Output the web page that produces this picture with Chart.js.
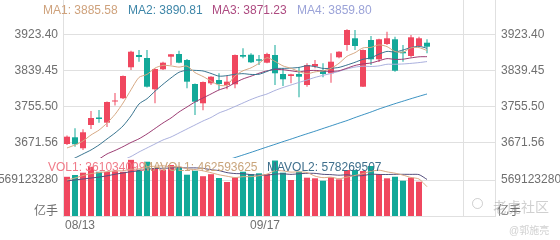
<!DOCTYPE html>
<html>
<head>
<meta charset="utf-8">
<script src="https://cdn.jsdelivr.net/npm/chart.js@4.4.1/dist/chart.umd.min.js"></script>
<style>
  body { margin: 0; background: #fff; }
  #wrap { position: relative; width: 560px; height: 240px; overflow: hidden;
          font-family: "Liberation Sans", Arial, "Noto Sans CJK SC", sans-serif; font-size: 12px; }
  #wrap canvas { position: absolute; left: 0; }
  #kline { top: 0; }
  #vol { top: 158px; }
  .lg { position: absolute; white-space: nowrap; line-height: 14px; }
  .wm { position: absolute; white-space: nowrap; color: rgba(170,170,170,0.55); }
</style>
</head>
<body>
<div id="wrap">
  <canvas id="kline" width="560" height="158"></canvas>
  <canvas id="vol" width="560" height="82"></canvas>

  <span class="lg" style="left:43px;top:3px;color:#cfa27c">MA1: 3885.58</span>
  <span class="lg" style="left:128px;top:3px;color:#3e86a8">MA2: 3890.81</span>
  <span class="lg" style="left:212px;top:3px;color:#ad4a80">MA3: 3871.23</span>
  <span class="lg" style="left:297px;top:3px;color:#9ba3d8">MA4: 3859.80</span>

  <span class="lg" style="left:48px;top:160px;color:#f07a88">VOL1: 361034099</span>
  <span class="lg" style="left:143px;top:160px;color:#c9a57c">MAVOL1: 462593625</span>
  <span class="lg" style="left:267px;top:160px;color:#3f6f8c">MAVOL2: 578269507</span>

  <span class="lg" style="left:34px;top:204px;color:#6f6f6f">亿手</span>
  <span class="lg" style="left:497px;top:204px;color:#6f6f6f">亿手</span>

  <span class="wm" style="left:472px;top:198px;width:9px;height:9px;border:1px solid rgba(170,170,170,0.55);border-radius:50%"></span>
  <span class="wm" style="left:493px;top:196px;font-size:14px">老虎社区</span>
  <span class="wm" style="left:509px;top:222px;font-size:10px">@郭施亮</span>
</div>

<script>
// x slots: 46 trading days drawn, 8 empty slots on the right
const SLOTS = 54;
const xTickLabels = ['08/13', '09/17'];
const xTickSlots = [0, 25];
const xGridSlots = [0, 25, 50];

const priceTicks = [3923.40, 3839.45, 3755.50, 3671.56];
const volTicks = [569123280];

const opens = [3667.6, 3683.2, 3657.6, 3711.9, 3729.4, 3717.3, 3766.7, 3774.2, 3846.5, 3875.1,
  3868.1, 3795.2, 3841.8, 3871.2, 3877.5, 3863.5, 3807.5, 3762.5, 3809.1, 3816.8,
  3805.2, 3806.8, 3875.1, 3875.8, 3865.1, 3857.2, 3875.1, 3830.8, 3826.2, 3830.8,
  3805.2, 3848.3, 3840.2, 3832.5, 3869.8, 3898.5, 3914.1, 3801.2, 3910.1, 3865.1,
  3900.8, 3911.8, 3882.8, 3872.8, 3896.1, 3903.8];
const highs = [3687.4, 3704.2, 3701.9, 3744.5, 3746.9, 3766.7, 3786.5, 3827.3, 3885.2, 3886.8,
  3886.8, 3843.7, 3859.5, 3877.5, 3885.2, 3865.8, 3808.7, 3813.3, 3825.7, 3832.5,
  3826.2, 3876.3, 3890.8, 3879.1, 3875.1, 3880.5, 3898.5, 3844.1, 3831.3, 3846.5,
  3855.8, 3863.5, 3855.8, 3879.1, 3884.0, 3935.1, 3933.4, 3888.0, 3919.4, 3912.9,
  3929.5, 3917.8, 3898.5, 3921.8, 3917.8, 3911.8];
const lows = [3665.3, 3661.3, 3653.6, 3702.6, 3717.3, 3707.2, 3757.4, 3772.5, 3840.2, 3859.5,
  3799.3, 3762.5, 3840.2, 3851.8, 3855.8, 3797.5, 3735.2, 3746.2, 3805.2, 3793.5,
  3795.2, 3797.5, 3867.4, 3856.5, 3851.8, 3855.8, 3805.2, 3802.8, 3809.1, 3776.5,
  3801.2, 3844.1, 3823.1, 3810.5, 3867.4, 3885.2, 3886.8, 3800.5, 3851.8, 3858.8,
  3898.5, 3836.2, 3859.5, 3869.8, 3894.5, 3879.1];
const closes = [3684.6, 3666.9, 3694.9, 3728.2, 3725.9, 3765.5, 3769.0, 3826.2, 3882.8, 3870.5,
  3801.2, 3842.5, 3857.2, 3876.8, 3857.2, 3812.9, 3766.2, 3812.2, 3824.5, 3807.5,
  3812.9, 3875.1, 3871.2, 3858.1, 3861.8, 3877.5, 3832.5, 3818.5, 3830.1, 3824.5,
  3851.8, 3854.2, 3830.8, 3859.5, 3882.8, 3933.4, 3896.1, 3886.8, 3865.1, 3911.8,
  3914.1, 3838.5, 3879.1, 3916.4, 3914.1, 3894.5];

const ma1 = [3658.3, 3665.3, 3674.6, 3688.6, 3700.0, 3716.3, 3736.6, 3763.0, 3794.0, 3822.9,
  3829.9, 3844.6, 3850.9, 3849.7, 3846.9, 3849.3, 3834.1, 3825.0, 3814.5, 3804.7,
  3804.7, 3826.4, 3838.3, 3845.1, 3855.8, 3868.8, 3860.2, 3849.7, 3844.1, 3836.7,
  3831.5, 3835.7, 3838.3, 3844.1, 3855.8, 3872.1, 3880.5, 3891.7, 3892.9, 3898.7,
  3894.7, 3883.3, 3881.7, 3891.9, 3892.4, 3885.6];
const ma2 = [3625.6, 3634.9, 3644.3, 3653.6, 3665.3, 3679.3, 3693.2, 3709.6, 3732.9, 3760.9,
  3773.1, 3790.7, 3806.8, 3821.7, 3834.8, 3839.7, 3839.3, 3837.9, 3832.1, 3825.8,
  3827.0, 3830.2, 3831.6, 3829.8, 3830.2, 3836.7, 3843.4, 3843.9, 3844.6, 3846.2,
  3850.2, 3848.1, 3843.9, 3844.1, 3846.2, 3851.8, 3858.1, 3865.1, 3868.6, 3877.2,
  3883.5, 3881.9, 3886.8, 3892.4, 3895.4, 3890.8];
const ma3 = [3595.3, 3607.0, 3616.3, 3625.6, 3632.6, 3644.3, 3652.4, 3661.3, 3671.1, 3679.7,
  3690.9, 3703.7, 3716.6, 3728.2, 3742.2, 3753.9, 3765.5, 3774.9, 3784.2, 3793.6,
  3800.0, 3810.5, 3819.3, 3825.7, 3832.6, 3838.1, 3841.3, 3840.9, 3838.3, 3836.0,
  3838.5, 3839.2, 3837.8, 3836.9, 3838.3, 3844.4, 3850.7, 3854.4, 3856.5, 3861.7,
  3866.7, 3864.9, 3865.3, 3868.4, 3870.9, 3871.2];
const ma4 = [3583.6, 3590.6, 3597.6, 3604.6, 3611.6, 3618.6, 3624.4, 3630.3, 3638.4, 3648.9,
  3658.3, 3667.6, 3676.9, 3683.9, 3693.2, 3702.6, 3711.9, 3721.2, 3729.4, 3739.9,
  3746.9, 3755.0, 3763.2, 3771.4, 3778.4, 3784.2, 3792.4, 3799.3, 3805.2, 3811.2,
  3816.8, 3822.9, 3827.6, 3832.0, 3837.1, 3842.7, 3846.9, 3849.0, 3848.3, 3849.7,
  3853.5, 3853.5, 3854.2, 3855.6, 3857.4, 3859.8];
const ma5 = [null, null, null, null, null, null, null, null, null, null,
  null, null, null, null, null, null, null, 3611.2, 3617.5, 3623.5,
  3629.8, 3635.9, 3641.9, 3648.0, 3654.3, 3660.6, 3666.7, 3673.0, 3679.0, 3685.3,
  3691.4, 3697.4, 3703.7, 3709.8, 3716.1, 3722.2, 3729.2, 3735.7, 3742.2, 3749.2,
  3755.5, 3761.6, 3767.4, 3773.2, 3778.8, 3784.2];

const volumes = [620e6, 648e6, 685e6, 778e6, 699e6, 696e6, 708e6, 699e6, 888e6, 732e6,
  858e6, 759e6, 734e6, 806e6, 767e6, 653e6, 716e6, 629e6, 661e6, 601e6,
  538e6, 609e6, 700e6, 664e6, 675e6, 664e6, 877e6, 685e6, 569e6, 700e6,
  606e6, 596e6, 558e6, 612e6, 580e6, 727e6, 727e6, 711e6, 791e6, 664e6,
  596e6, 621e6, 558e6, 606e6, 542e6, null];
const mavol1 = [569e6, 600e6, 640e6, 670e6, 686e6, 701e6, 713e6, 716e6, 738e6, 745e6,
  777e6, 787e6, 794e6, 778e6, 785e6, 744e6, 735e6, 714e6, 685e6, 652e6,
  629e6, 608e6, 622e6, 622e6, 637e6, 662e6, 716e6, 713e6, 694e6, 699e6,
  687e6, 631e6, 606e6, 614e6, 590e6, 615e6, 641e6, 671e6, 707e6, 724e6,
  698e6, 677e6, 646e6, 609e6, 585e6, 463e6];
const mavol2 = [555e6, 570e6, 585e6, 600e6, 615e6, 635e6, 660e6, 680e6, 700e6, 715e6,
  739e6, 750e6, 755e6, 758e6, 765e6, 760e6, 761e6, 754e6, 732e6, 718e6,
  686e6, 671e6, 668e6, 654e6, 645e6, 646e6, 662e6, 667e6, 658e6, 668e6,
  675e6, 674e6, 659e6, 654e6, 645e6, 651e6, 636e6, 639e6, 661e6, 657e6,
  656e6, 659e6, 659e6, 658e6, 654e6, 578e6];

const UP = '#f0475f';
const DOWN = '#12a999';
const GRID = '#e0e0e0';
const LABEL = '#6f6f6f';
const FONT = { family: '"Liberation Sans", Arial, sans-serif', size: 12 };

const slots = Array.from({ length: SLOTS }, (_, i) => i);
const candleColors = opens.map((o, i) => closes[i] >= o ? UP : DOWN);

var vGrid = function(ctx) {
  if (ctx.type !== 'tick') return GRID;   // closing line on the right edge
  return xGridSlots.includes(ctx.index) ? GRID : 'rgba(0,0,0,0)';
};

// fixed axis sizes, and no label padding eating into the plot area
var fixWidth = function(width) {
  return s => { s.width = width; s.paddingTop = 0; s.paddingBottom = 0; };
};
var fixHeight = function(height) {
  return s => { s.height = height; s.paddingLeft = 0; s.paddingRight = 0; };
};

var priceAxis = function(pos, width, withGrid) {
  return {
    position: pos,
    min: 3634.9,
    max: 4003.4,
    afterBuildTicks: s => { s.ticks = priceTicks.map(v => ({ value: v })); },
    afterFit: fixWidth(width),
    ticks: { callback: v => v.toFixed(2), color: LABEL, font: FONT, padding: pos === 'left' ? 5 : 6 },
    grid: { display: withGrid, color: GRID, drawTicks: false },
    border: { display: false }
  };
};

var volAxis = function(pos, width, withGrid) {
  return {
    position: pos,
    min: 0,
    max: 917e6,
    afterBuildTicks: s => { s.ticks = volTicks.map(v => ({ value: v })); },
    afterFit: fixWidth(width),
    ticks: { callback: v => String(v), color: LABEL, font: FONT, padding: pos === 'left' ? 5 : 6 },
    grid: { display: withGrid, color: GRID, drawTicks: false },
    border: { display: false }
  };
};

var maLine = function(data, color, yAxisID) {
  return {
    type: 'line', data: data, yAxisID: yAxisID, order: 0,
    borderColor: color, borderWidth: 1, pointRadius: 0, tension: 0.25, fill: false
  };
};

new Chart(document.getElementById('kline'), {
  type: 'bar',
  data: {
    labels: slots,
    datasets: [
      maLine(ma1, '#d6a883', 'y'),
      maLine(ma2, '#3a7590', 'y'),
      maLine(ma3, '#9c3e74', 'y'),
      maLine(ma4, '#aab0dd', 'y'),
      maLine(ma5, '#3d93c2', 'y'),
      {
        data: opens.map((o, i) => [o, closes[i]]), yAxisID: 'y', order: 1,
        backgroundColor: candleColors, barThickness: 6, grouped: false,
        minBarLength: 1, inflateAmount: 0
      },
      {
        data: lows.map((l, i) => [l, highs[i]]), yAxisID: 'y', order: 2,
        backgroundColor: candleColors, barThickness: 1, grouped: false, inflateAmount: 0
      }
    ]
  },
  options: {
    responsive: false,
    animation: false,
    layout: { padding: 0, autoPadding: false },
    plugins: { legend: { display: false }, tooltip: { enabled: false } },
    scales: {
      x: {
        offset: true,
        grid: { offset: true, drawTicks: false, color: vGrid },
        border: { display: false },
        ticks: { display: false },
        afterFit: fixHeight(0)
      },
      y: priceAxis('left', 63, true),
      y2: priceAxis('right', 65, false)
    }
  }
});

new Chart(document.getElementById('vol'), {
  type: 'bar',
  data: {
    labels: slots,
    datasets: [
      maLine(mavol1, '#d9a985', 'yv'),
      maLine(mavol2, '#56507e', 'yv'),
      {
        data: volumes, yAxisID: 'yv', order: 1,
        backgroundColor: candleColors, barThickness: 6, grouped: false, inflateAmount: 0
      }
    ]
  },
  options: {
    responsive: false,
    animation: false,
    layout: { padding: 0, autoPadding: false },
    plugins: { legend: { display: false }, tooltip: { enabled: false } },
    scales: {
      x: {
        offset: true,
        grid: { offset: true, drawTicks: false, color: vGrid },
        border: { display: true, color: GRID },
        ticks: {
          autoSkip: false, maxRotation: 0, align: 'inner', labelOffset: -2, padding: 2,
          color: LABEL, font: FONT,
          callback: (v, i) => {
            const k = xTickSlots.indexOf(i);
            return k >= 0 ? xTickLabels[k] : '';
          }
        },
        afterFit: fixHeight(24)
      },
      yv: volAxis('left', 63, true),
      yv2: volAxis('right', 65, false)
    }
  }
});
</script>
</body>
</html>
